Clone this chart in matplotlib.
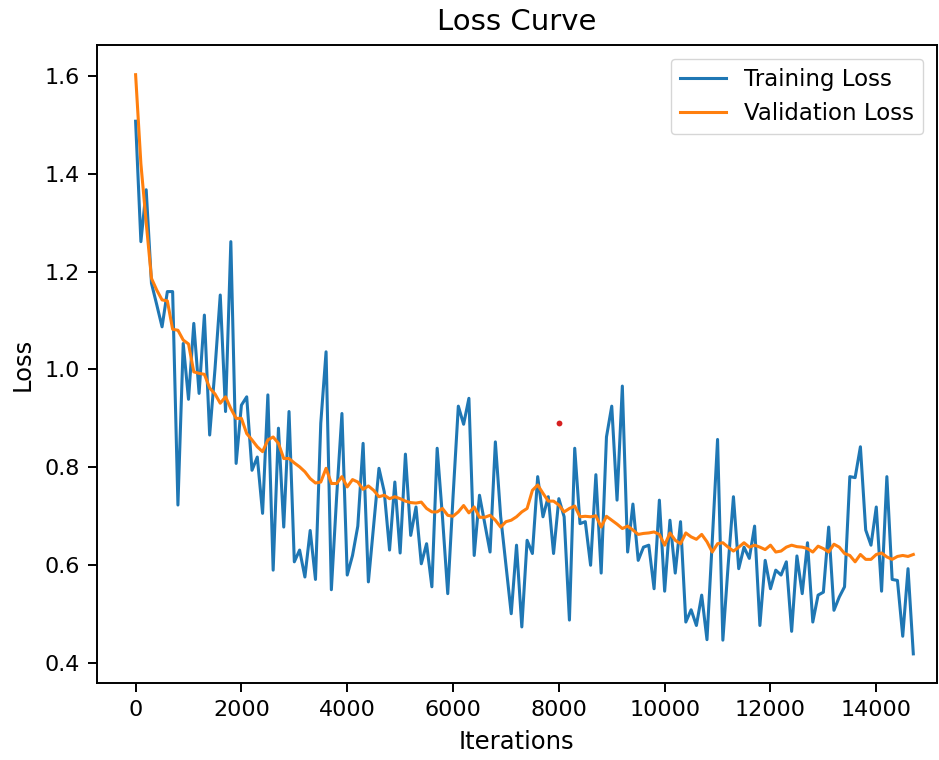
import matplotlib
matplotlib.use("Agg")
import matplotlib.pyplot as plt
import numpy as np

iterations = list(range(0, 14800, 100))

train_loss = [
    1.507, 1.261, 1.367, 1.176, 1.132, 1.087, 1.159, 1.159, 0.723, 1.053,
    0.939, 1.094, 0.951, 1.111, 0.866, 1.000, 1.152, 0.914, 1.261, 0.808,
    0.927, 0.944, 0.794, 0.821, 0.706, 0.948, 0.590, 0.880, 0.678, 0.914,
    0.607, 0.631, 0.576, 0.671, 0.571, 0.890, 1.036, 0.550, 0.740, 0.910,
    0.580, 0.620, 0.680, 0.849, 0.566, 0.682, 0.798, 0.750, 0.631, 0.770,
    0.625, 0.827, 0.661, 0.719, 0.603, 0.644, 0.556, 0.839, 0.699, 0.542,
    0.740, 0.925, 0.888, 0.941, 0.620, 0.743, 0.685, 0.627, 0.852, 0.700,
    0.600, 0.501, 0.641, 0.474, 0.651, 0.624, 0.781, 0.699, 0.740, 0.624,
    0.736, 0.699, 0.488, 0.839, 0.685, 0.689, 0.600, 0.785, 0.584, 0.862,
    0.925, 0.733, 0.966, 0.627, 0.725, 0.610, 0.637, 0.641, 0.552, 0.733,
    0.547, 0.692, 0.584, 0.689, 0.484, 0.509, 0.477, 0.539, 0.448, 0.650,
    0.857, 0.447, 0.600, 0.740, 0.593, 0.637, 0.614, 0.680, 0.477, 0.610,
    0.552, 0.590, 0.580, 0.607, 0.465, 0.619, 0.542, 0.646, 0.484, 0.539,
    0.545, 0.678, 0.508, 0.535, 0.556, 0.781, 0.779, 0.842, 0.672, 0.641,
    0.719, 0.547, 0.781, 0.571, 0.569, 0.455, 0.593, 0.419,
]

val_loss = [
    1.602, 1.420, 1.300, 1.186, 1.162, 1.142, 1.140, 1.082, 1.080, 1.060,
    1.052, 0.995, 0.992, 0.990, 0.962, 0.950, 0.931, 0.944, 0.920, 0.900,
    0.900, 0.869, 0.856, 0.842, 0.832, 0.856, 0.862, 0.849, 0.818, 0.818,
    0.809, 0.801, 0.791, 0.777, 0.768, 0.770, 0.798, 0.767, 0.767, 0.781,
    0.760, 0.775, 0.770, 0.755, 0.762, 0.753, 0.740, 0.743, 0.736, 0.740,
    0.736, 0.731, 0.728, 0.727, 0.729, 0.716, 0.709, 0.709, 0.716, 0.702,
    0.700, 0.709, 0.722, 0.707, 0.719, 0.698, 0.698, 0.702, 0.692, 0.678,
    0.689, 0.692, 0.699, 0.709, 0.716, 0.753, 0.764, 0.747, 0.731, 0.731,
    0.723, 0.709, 0.716, 0.721, 0.699, 0.700, 0.699, 0.701, 0.678, 0.700,
    0.692, 0.684, 0.675, 0.680, 0.672, 0.663, 0.665, 0.666, 0.668, 0.663,
    0.641, 0.666, 0.651, 0.644, 0.666, 0.658, 0.653, 0.663, 0.648, 0.627,
    0.644, 0.646, 0.637, 0.629, 0.637, 0.646, 0.637, 0.641, 0.637, 0.632,
    0.641, 0.627, 0.629, 0.637, 0.641, 0.638, 0.637, 0.634, 0.627, 0.639,
    0.634, 0.627, 0.643, 0.637, 0.624, 0.620, 0.607, 0.622, 0.612, 0.612,
    0.622, 0.625, 0.617, 0.612, 0.618, 0.620, 0.618, 0.622,
]

marker_x = [8000]
marker_y = [0.89]

S = 1.75  # reference rendered at ~175 dpi equivalent

fig = plt.figure(figsize=(9.39, 7.60), dpi=100)
ax = fig.add_axes([0.103, 0.101, 0.895, 0.840])

ax.plot(iterations, train_loss, color="#1f77b4", lw=2.2, label="Training Loss")
ax.plot(iterations, val_loss, color="#ff7f0e", lw=2.2, label="Validation Loss")
ax.plot(marker_x, marker_y, "o", color="#d62020", ms=4.2, mec="none")

ax.set_xlim(-735, 15150)
ax.set_ylim(0.359, 1.663)
ax.set_xticks([0, 2000, 4000, 6000, 8000, 10000, 12000, 14000])
ax.set_yticks([0.4, 0.6, 0.8, 1.0, 1.2, 1.4, 1.6])
ax.tick_params(labelsize=16, length=3.5 * S, width=0.8 * S, pad=3.5 * S)
for sp in ax.spines.values():
    sp.set_linewidth(0.8 * S)
ax.set_title("Loss Curve", fontsize=12 * S, pad=6 * S)
ax.set_xlabel("Iterations", fontsize=10 * S, labelpad=4 * S)
ax.set_ylabel("Loss", fontsize=10 * S, labelpad=4 * S)
ax.legend(loc="upper right", fontsize=16.5, borderaxespad=0.6, handlelength=2.0)

fig.savefig("out.png", dpi=100)
